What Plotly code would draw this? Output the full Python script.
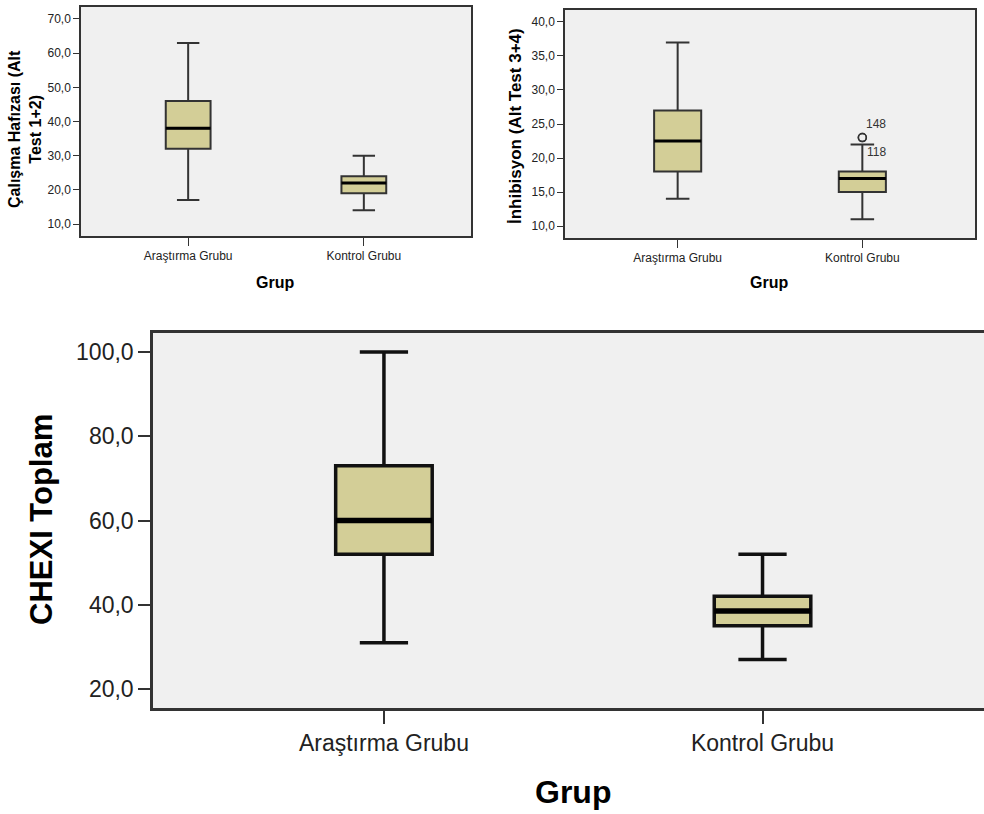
import plotly.graph_objects as go

W, H = 984, 814

categories = ["Araştırma Grubu", "Kontrol Grubu"]

# Panel 1: Çalışma Hafızası (Alt Test 1+2)
wm_low = [17, 14]
wm_q1 = [32, 19]
wm_med = [38, 22]
wm_q3 = [46, 24]
wm_high = [63, 30]
wm_ticks = [10, 20, 30, 40, 50, 60, 70]

# Panel 2: İnhibisyon (Alt Test 3+4)
inh_low = [14, 11]
inh_q1 = [18, 15]
inh_med = [22.5, 17]
inh_q3 = [27, 18]
inh_high = [37, 22]
inh_ticks = [10, 15, 20, 25, 30, 35, 40]
inh_outlier_vals = [23, 23]
inh_outlier_ids = ["148", "118"]

# Panel 3: CHEXI Toplam
chx_low = [31, 27]
chx_q1 = [52, 35]
chx_med = [60, 38.5]
chx_q3 = [73, 42]
chx_high = [100, 52]
chx_ticks = [20, 40, 60, 80, 100]

FONT = "Liberation Sans, Arial, sans-serif"
BOX_FILL = "#D3CE97"
BG = "#F0F0F0"
BW = 0.255
xpos = list(range(len(categories)))


def fmt(v):
    return f"{v:.1f}".replace(".", ",")


def px(x):
    return x / W


def py(y):
    return 1 - y / H


fig = go.Figure()


def add_panel(n, low, q1, med, q3, high, lw, lcolor, mw):
    xa = "x" if n == 1 else f"x{n}"
    ya = "y" if n == 1 else f"y{n}"
    fig.add_trace(go.Box(
        x=xpos, q1=q1, median=med, q3=q3, lowerfence=low, upperfence=high,
        width=BW, whiskerwidth=0.5, fillcolor=BOX_FILL,
        line=dict(color=lcolor, width=lw), boxpoints=False,
        xaxis=xa, yaxis=ya, showlegend=False, hoverinfo="skip"))
    for i, m in zip(xpos, med):
        fig.add_trace(go.Scatter(
            x=[i - BW / 2, i + BW / 2], y=[m, m], mode="lines",
            line=dict(color="black", width=mw), xaxis=xa, yaxis=ya,
            showlegend=False, hoverinfo="skip"))


add_panel(1, wm_low, wm_q1, wm_med, wm_q3, wm_high, 2, "#333333", 3)
add_panel(2, inh_low, inh_q1, inh_med, inh_q3, inh_high, 2, "#333333", 3)
add_panel(3, chx_low, chx_q1, chx_med, chx_q3, chx_high, 3.5, "#111111", 5.5)

# outliers in panel 2 (Kontrol Grubu)
fig.add_trace(go.Scatter(
    x=[1] * len(inh_outlier_vals), y=inh_outlier_vals, mode="markers",
    marker=dict(symbol="circle-open", size=8, color="#333333", line=dict(width=1.5)),
    xaxis="x2", yaxis="y2", showlegend=False, hoverinfo="skip"))

for k, (val, lab) in enumerate(zip(inh_outlier_vals, inh_outlier_ids)):
    fig.add_annotation(x=1, y=val, xref="x2", yref="y2", text=lab, showarrow=False,
                       xshift=14, yshift=14 if k == 0 else -14,
                       font=dict(family=FONT, size=12, color="#333333"))


def xaxis_cfg(domain, rng, ticklen, tickfont, lw, mirror=True):
    return dict(domain=domain, range=rng, tickvals=xpos, ticktext=categories,
                ticks="outside", ticklen=ticklen, tickwidth=lw * 0.8, tickcolor="#333333",
                showline=True, linecolor="#333333", linewidth=lw, mirror=mirror,
                showgrid=False, zeroline=False, fixedrange=True,
                tickfont=dict(family=FONT, size=tickfont, color="#222222"))


def yaxis_cfg(domain, rng, ticks, ticklen, tickfont, lw, mirror=True):
    return dict(domain=domain, range=rng, tickvals=ticks, ticktext=[fmt(t) for t in ticks],
                ticks="outside", ticklen=ticklen, tickwidth=lw * 0.8, tickcolor="#333333",
                showline=True, linecolor="#333333", linewidth=lw, mirror=mirror,
                showgrid=False, zeroline=False, fixedrange=True,
                tickfont=dict(family=FONT, size=tickfont, color="#222222"))


fig.update_layout(
    width=W, height=H, margin=dict(l=0, r=0, t=0, b=0),
    paper_bgcolor="white", plot_bgcolor=BG, showlegend=False,
    xaxis=xaxis_cfg([px(81), px(471)], [-0.61, 1.61], 8, 12, 1.5),
    yaxis=yaxis_cfg([py(236), py(7)], [6.5, 73.5], wm_ticks, 6, 12, 1.5),
    xaxis2=dict(**xaxis_cfg([px(565), px(975)], [-0.61, 1.61], 8, 12, 1.5), anchor="y2"),
    yaxis2=dict(**yaxis_cfg([py(238), py(10)], [8.24, 41.76], inh_ticks, 6, 12, 1.5), anchor="x2"),
    xaxis3=dict(**xaxis_cfg([px(153), 1.0], [-0.61, 1.585], 13, 23, 2.5), anchor="y3"),
    yaxis3=dict(**yaxis_cfg([py(708), py(333)], [15.5, 104.5], chx_ticks, 12, 23, 2.5, mirror=False), anchor="x3"),
)
fig.update_layout(xaxis=dict(anchor="y"), yaxis=dict(anchor="x"))

titles = [
    ("Çalışma Hafızası (Alt<br>Test 1+2)", 25, 129, 16, -90),
    ("İnhibisyon (Alt Test 3+4)", 515, 126, 17, -90),
    ("Grup", 275, 283, 16, 0),
    ("Grup", 769, 283, 16, 0),
    ("CHEXI Toplam", 41, 520, 31, -90),
    ("Grup", 573, 792, 32, 0),
]
for text, x, y, size, ang in titles:
    fig.add_annotation(x=px(x), y=py(y), xref="paper", yref="paper", text=text,
                       showarrow=False, textangle=ang, xanchor="center", yanchor="middle",
                       font=dict(family=FONT, size=size, color="black", weight="bold"))

fig.write_html("out.html")
